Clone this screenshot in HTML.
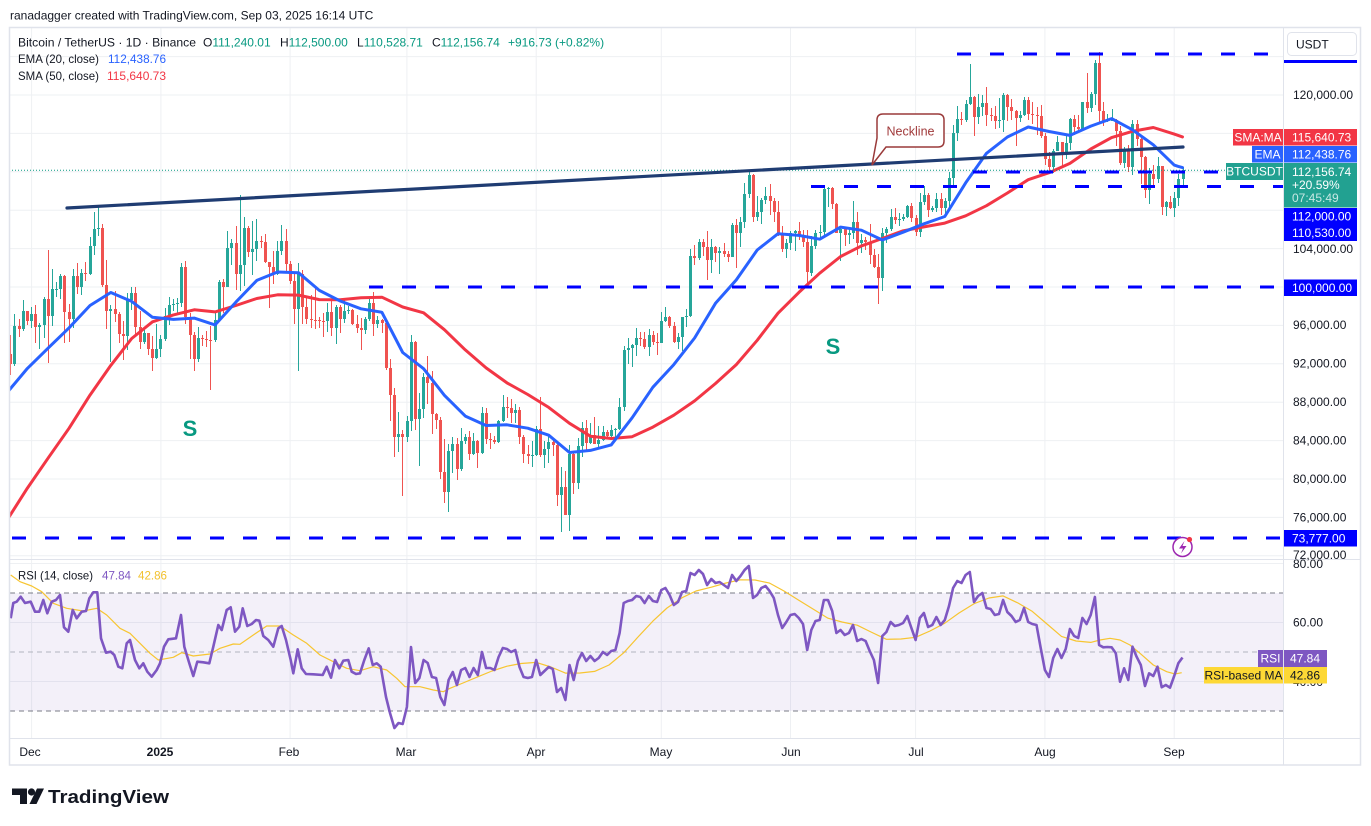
<!DOCTYPE html>
<html><head><meta charset="utf-8">
<style>
html,body{margin:0;padding:0;background:#fff;}
#wrap{position:relative;width:1371px;height:826px;overflow:hidden;background:#fff;}
svg{position:absolute;left:0;top:0;display:block;font-family:"Liberation Sans",Arial,sans-serif;}
.cd{position:absolute;left:8.665px;top:0;width:1177px;height:560px;display:flex;flex-wrap:nowrap;}
.cd i{position:relative;flex:none;width:4.171875px;height:560px;display:block;}
.cd i:before,.cd i:after{content:"";position:absolute;background:var(--k);}
.cd i:before{left:1.585px;width:1px;top:calc(287px - (var(--h) - 100) * 9.6px);height:calc((var(--h) - var(--l)) * 9.6px);}
.cd i:after{left:0.585px;width:3px;top:calc(287px - (max(var(--o), var(--c)) - 100) * 9.6px);height:max(1px, calc((max(var(--o), var(--c)) - min(var(--o), var(--c))) * 9.6px));}
.u{--k:#26a69a;}.d{--k:#ef5350;}
</style></head><body>
<div id="wrap">
<svg width="1371" height="826" viewBox="0 0 1371 826" xmlns="http://www.w3.org/2000/svg">
<rect width="1371" height="826" fill="#fff"/>
<g stroke="#eef0f3" stroke-width="1">
<line x1="31.6" y1="28" x2="31.6" y2="738"/><line x1="160.9" y1="28" x2="160.9" y2="738"/><line x1="290.1" y1="28" x2="290.1" y2="738"/><line x1="406.9" y1="28" x2="406.9" y2="738"/><line x1="536.2" y1="28" x2="536.2" y2="738"/><line x1="661.3" y1="28" x2="661.3" y2="738"/><line x1="790.5" y1="28" x2="790.5" y2="738"/><line x1="915.6" y1="28" x2="915.6" y2="738"/><line x1="1044.9" y1="28" x2="1044.9" y2="738"/><line x1="1174.2" y1="28" x2="1174.2" y2="738"/>
<line x1="10" y1="555.8" x2="1283" y2="555.8"/><line x1="10" y1="517.4" x2="1283" y2="517.4"/><line x1="10" y1="479" x2="1283" y2="479"/><line x1="10" y1="440.6" x2="1283" y2="440.6"/><line x1="10" y1="402.2" x2="1283" y2="402.2"/><line x1="10" y1="363.8" x2="1283" y2="363.8"/><line x1="10" y1="325.4" x2="1283" y2="325.4"/><line x1="10" y1="287" x2="1283" y2="287"/><line x1="10" y1="248.6" x2="1283" y2="248.6"/><line x1="10" y1="210.2" x2="1283" y2="210.2"/><line x1="10" y1="171.8" x2="1283" y2="171.8"/><line x1="10" y1="133.4" x2="1283" y2="133.4"/><line x1="10" y1="95" x2="1283" y2="95"/><line x1="10" y1="56.6" x2="1283" y2="56.6"/>
<line x1="10" y1="563.5" x2="1283" y2="563.5"/><line x1="10" y1="622.5" x2="1283" y2="622.5"/><line x1="10" y1="681.5" x2="1283" y2="681.5"/>
</g>
</svg>

<div class="cd">
<i class="d" style="--o:93.01;--h:94.97;--l:90.79;--c:91.97"></i>
<i class="u" style="--o:91.97;--h:97.21;--l:91.80;--c:95.95"></i>
<i class="d" style="--o:95.95;--h:96.65;--l:94.75;--c:95.64"></i>
<i class="u" style="--o:95.64;--h:98.69;--l:95.38;--c:97.46"></i>
<i class="d" style="--o:97.46;--h:97.50;--l:96.00;--c:96.41"></i>
<i class="u" style="--o:96.41;--h:97.90;--l:95.70;--c:97.19"></i>
<i class="d" style="--o:97.19;--h:98.15;--l:94.20;--c:95.84"></i>
<i class="u" style="--o:95.84;--h:96.30;--l:93.58;--c:96.00"></i>
<i class="u" style="--o:96.00;--h:99.00;--l:94.66;--c:98.77"></i>
<i class="d" style="--o:98.77;--h:103.90;--l:92.12;--c:96.95"></i>
<i class="u" style="--o:96.95;--h:101.90;--l:95.98;--c:99.74"></i>
<i class="u" style="--o:99.74;--h:100.55;--l:98.93;--c:99.83"></i>
<i class="u" style="--o:99.83;--h:101.40;--l:98.77;--c:101.11"></i>
<i class="d" style="--o:101.11;--h:101.22;--l:94.15;--c:97.40"></i>
<i class="d" style="--o:97.40;--h:98.27;--l:94.26;--c:96.68"></i>
<i class="u" style="--o:96.68;--h:101.90;--l:95.70;--c:101.17"></i>
<i class="d" style="--o:101.17;--h:102.54;--l:99.31;--c:100.04"></i>
<i class="u" style="--o:100.04;--h:101.90;--l:99.20;--c:101.42"></i>
<i class="d" style="--o:101.42;--h:102.65;--l:100.61;--c:101.37"></i>
<i class="u" style="--o:101.37;--h:105.25;--l:101.23;--c:104.30"></i>
<i class="u" style="--o:104.30;--h:107.78;--l:103.33;--c:106.06"></i>
<i class="u" style="--o:106.06;--h:108.35;--l:105.32;--c:106.13"></i>
<i class="d" style="--o:106.13;--h:106.52;--l:100.00;--c:100.20"></i>
<i class="d" style="--o:100.20;--h:102.80;--l:95.67;--c:97.46"></i>
<i class="u" style="--o:97.46;--h:98.15;--l:92.23;--c:97.76"></i>
<i class="d" style="--o:97.76;--h:99.54;--l:96.40;--c:97.22"></i>
<i class="d" style="--o:97.22;--h:97.40;--l:94.20;--c:95.10"></i>
<i class="d" style="--o:95.10;--h:96.42;--l:92.40;--c:94.89"></i>
<i class="u" style="--o:94.89;--h:99.40;--l:93.40;--c:98.68"></i>
<i class="u" style="--o:98.68;--h:99.96;--l:97.60;--c:99.40"></i>
<i class="d" style="--o:99.40;--h:99.96;--l:95.14;--c:95.79"></i>
<i class="d" style="--o:95.79;--h:97.50;--l:93.50;--c:94.30"></i>
<i class="u" style="--o:94.30;--h:95.50;--l:94.10;--c:95.16"></i>
<i class="d" style="--o:95.16;--h:95.20;--l:92.90;--c:93.53"></i>
<i class="d" style="--o:93.53;--h:94.90;--l:91.30;--c:92.64"></i>
<i class="u" style="--o:92.64;--h:96.15;--l:92.50;--c:93.58"></i>
<i class="u" style="--o:93.58;--h:95.00;--l:92.74;--c:94.59"></i>
<i class="u" style="--o:94.59;--h:97.84;--l:94.40;--c:96.98"></i>
<i class="u" style="--o:96.98;--h:98.98;--l:96.00;--c:98.11"></i>
<i class="u" style="--o:98.11;--h:98.73;--l:97.51;--c:98.24"></i>
<i class="u" style="--o:98.24;--h:98.81;--l:97.27;--c:98.31"></i>
<i class="u" style="--o:98.31;--h:102.48;--l:97.90;--c:102.08"></i>
<i class="d" style="--o:102.08;--h:102.72;--l:96.18;--c:96.92"></i>
<i class="d" style="--o:96.92;--h:97.26;--l:92.50;--c:95.04"></i>
<i class="d" style="--o:95.04;--h:95.35;--l:91.20;--c:92.48"></i>
<i class="u" style="--o:92.48;--h:95.84;--l:92.20;--c:94.70"></i>
<i class="d" style="--o:94.70;--h:95.00;--l:93.83;--c:94.56"></i>
<i class="d" style="--o:94.56;--h:95.40;--l:93.71;--c:94.52"></i>
<i class="d" style="--o:94.52;--h:95.89;--l:89.26;--c:94.50"></i>
<i class="u" style="--o:94.50;--h:97.37;--l:94.30;--c:96.53"></i>
<i class="u" style="--o:96.53;--h:100.68;--l:96.45;--c:100.50"></i>
<i class="d" style="--o:100.50;--h:100.87;--l:97.27;--c:99.99"></i>
<i class="u" style="--o:99.99;--h:105.87;--l:99.95;--c:104.08"></i>
<i class="u" style="--o:104.08;--h:104.99;--l:102.28;--c:104.56"></i>
<i class="d" style="--o:104.56;--h:106.31;--l:99.65;--c:101.33"></i>
<i class="u" style="--o:101.33;--h:109.59;--l:99.55;--c:102.26"></i>
<i class="u" style="--o:102.26;--h:107.24;--l:100.12;--c:106.14"></i>
<i class="d" style="--o:106.14;--h:106.33;--l:103.12;--c:103.65"></i>
<i class="u" style="--o:103.65;--h:106.85;--l:101.25;--c:103.96"></i>
<i class="u" style="--o:103.96;--h:107.12;--l:102.75;--c:104.82"></i>
<i class="d" style="--o:104.82;--h:105.29;--l:104.10;--c:104.71"></i>
<i class="d" style="--o:104.71;--h:105.47;--l:102.46;--c:102.62"></i>
<i class="d" style="--o:102.62;--h:102.62;--l:97.78;--c:102.08"></i>
<i class="d" style="--o:102.08;--h:103.78;--l:100.27;--c:101.33"></i>
<i class="u" style="--o:101.33;--h:104.80;--l:101.25;--c:103.73"></i>
<i class="u" style="--o:103.73;--h:106.46;--l:103.32;--c:104.74"></i>
<i class="d" style="--o:104.74;--h:106.01;--l:101.56;--c:102.43"></i>
<i class="d" style="--o:102.43;--h:102.75;--l:100.28;--c:100.64"></i>
<i class="d" style="--o:100.64;--h:101.46;--l:96.15;--c:97.69"></i>
<i class="u" style="--o:97.69;--h:102.50;--l:91.23;--c:101.40"></i>
<i class="d" style="--o:101.40;--h:101.73;--l:96.15;--c:97.87"></i>
<i class="d" style="--o:97.87;--h:99.00;--l:96.16;--c:96.62"></i>
<i class="d" style="--o:96.62;--h:99.19;--l:95.68;--c:96.59"></i>
<i class="d" style="--o:96.59;--h:100.14;--l:95.62;--c:96.53"></i>
<i class="d" style="--o:96.53;--h:96.88;--l:95.69;--c:96.48"></i>
<i class="d" style="--o:96.48;--h:97.32;--l:94.75;--c:96.46"></i>
<i class="u" style="--o:96.46;--h:98.35;--l:95.26;--c:97.43"></i>
<i class="d" style="--o:97.43;--h:98.50;--l:94.88;--c:95.78"></i>
<i class="u" style="--o:95.78;--h:98.12;--l:94.09;--c:97.87"></i>
<i class="d" style="--o:97.87;--h:98.10;--l:95.22;--c:96.62"></i>
<i class="u" style="--o:96.62;--h:98.83;--l:96.25;--c:97.51"></i>
<i class="u" style="--o:97.51;--h:97.97;--l:97.23;--c:97.57"></i>
<i class="d" style="--o:97.57;--h:97.73;--l:96.04;--c:96.12"></i>
<i class="d" style="--o:96.12;--h:97.05;--l:95.21;--c:95.77"></i>
<i class="d" style="--o:95.77;--h:96.75;--l:93.39;--c:95.54"></i>
<i class="u" style="--o:95.54;--h:96.90;--l:95.10;--c:96.64"></i>
<i class="u" style="--o:96.64;--h:98.80;--l:96.42;--c:98.33"></i>
<i class="d" style="--o:98.33;--h:99.51;--l:94.87;--c:96.13"></i>
<i class="u" style="--o:96.13;--h:96.95;--l:95.77;--c:96.58"></i>
<i class="d" style="--o:96.58;--h:96.67;--l:95.23;--c:96.27"></i>
<i class="d" style="--o:96.27;--h:96.50;--l:91.37;--c:91.55"></i>
<i class="d" style="--o:91.55;--h:92.55;--l:86.05;--c:88.74"></i>
<i class="d" style="--o:88.74;--h:89.43;--l:82.26;--c:84.35"></i>
<i class="u" style="--o:84.35;--h:87.00;--l:82.79;--c:84.71"></i>
<i class="d" style="--o:84.71;--h:85.12;--l:78.26;--c:84.35"></i>
<i class="u" style="--o:84.35;--h:86.56;--l:83.82;--c:86.07"></i>
<i class="u" style="--o:86.07;--h:95.00;--l:85.05;--c:94.27"></i>
<i class="d" style="--o:94.27;--h:94.42;--l:85.08;--c:86.22"></i>
<i class="u" style="--o:86.22;--h:88.91;--l:81.39;--c:87.28"></i>
<i class="u" style="--o:87.28;--h:91.00;--l:86.33;--c:90.61"></i>
<i class="d" style="--o:90.61;--h:92.81;--l:87.85;--c:89.96"></i>
<i class="d" style="--o:89.96;--h:91.28;--l:84.67;--c:86.74"></i>
<i class="d" style="--o:86.74;--h:86.85;--l:85.25;--c:86.15"></i>
<i class="d" style="--o:86.15;--h:86.50;--l:80.00;--c:80.73"></i>
<i class="d" style="--o:80.73;--h:84.12;--l:77.46;--c:78.60"></i>
<i class="u" style="--o:78.60;--h:83.62;--l:76.61;--c:82.93"></i>
<i class="u" style="--o:82.93;--h:84.36;--l:80.63;--c:83.68"></i>
<i class="d" style="--o:83.68;--h:84.30;--l:79.94;--c:81.07"></i>
<i class="u" style="--o:81.07;--h:85.31;--l:80.81;--c:83.98"></i>
<i class="u" style="--o:83.98;--h:84.67;--l:83.63;--c:84.34"></i>
<i class="d" style="--o:84.34;--h:85.05;--l:82.02;--c:82.58"></i>
<i class="u" style="--o:82.58;--h:84.76;--l:82.46;--c:84.01"></i>
<i class="d" style="--o:84.01;--h:84.04;--l:81.13;--c:82.72"></i>
<i class="u" style="--o:82.72;--h:87.45;--l:82.64;--c:86.85"></i>
<i class="d" style="--o:86.85;--h:87.44;--l:83.65;--c:84.17"></i>
<i class="d" style="--o:84.17;--h:84.78;--l:83.17;--c:84.04"></i>
<i class="d" style="--o:84.04;--h:84.51;--l:83.67;--c:83.83"></i>
<i class="u" style="--o:83.83;--h:86.11;--l:83.79;--c:86.05"></i>
<i class="u" style="--o:86.05;--h:88.77;--l:85.94;--c:87.50"></i>
<i class="d" style="--o:87.50;--h:88.54;--l:86.35;--c:87.43"></i>
<i class="d" style="--o:87.43;--h:88.29;--l:85.86;--c:86.90"></i>
<i class="u" style="--o:86.90;--h:87.79;--l:85.84;--c:87.23"></i>
<i class="d" style="--o:87.23;--h:87.52;--l:83.65;--c:84.42"></i>
<i class="d" style="--o:84.42;--h:84.57;--l:81.64;--c:82.65"></i>
<i class="d" style="--o:82.65;--h:83.53;--l:81.57;--c:82.39"></i>
<i class="u" style="--o:82.39;--h:83.94;--l:81.28;--c:82.55"></i>
<i class="u" style="--o:82.55;--h:85.49;--l:82.43;--c:85.16"></i>
<i class="d" style="--o:85.16;--h:88.50;--l:82.32;--c:82.52"></i>
<i class="u" style="--o:82.52;--h:83.94;--l:81.19;--c:83.10"></i>
<i class="u" style="--o:83.10;--h:84.72;--l:81.66;--c:83.84"></i>
<i class="d" style="--o:83.84;--h:84.23;--l:82.37;--c:83.50"></i>
<i class="d" style="--o:83.50;--h:83.82;--l:77.15;--c:78.37"></i>
<i class="u" style="--o:78.37;--h:81.24;--l:74.51;--c:79.14"></i>
<i class="d" style="--o:79.14;--h:80.82;--l:76.20;--c:76.27"></i>
<i class="u" style="--o:76.27;--h:83.59;--l:74.62;--c:82.62"></i>
<i class="d" style="--o:82.62;--h:82.70;--l:78.46;--c:79.61"></i>
<i class="u" style="--o:79.61;--h:84.30;--l:78.94;--c:83.42"></i>
<i class="u" style="--o:83.42;--h:85.91;--l:82.26;--c:85.28"></i>
<i class="d" style="--o:85.28;--h:86.10;--l:83.03;--c:83.74"></i>
<i class="u" style="--o:83.74;--h:85.80;--l:83.68;--c:84.54"></i>
<i class="d" style="--o:84.54;--h:86.50;--l:83.60;--c:83.63"></i>
<i class="u" style="--o:83.63;--h:85.50;--l:83.11;--c:84.03"></i>
<i class="u" style="--o:84.03;--h:85.47;--l:83.94;--c:84.94"></i>
<i class="d" style="--o:84.94;--h:85.10;--l:84.23;--c:84.45"></i>
<i class="u" style="--o:84.45;--h:85.60;--l:84.41;--c:85.06"></i>
<i class="u" style="--o:85.06;--h:85.32;--l:83.95;--c:85.17"></i>
<i class="u" style="--o:85.17;--h:88.46;--l:85.14;--c:87.52"></i>
<i class="u" style="--o:87.52;--h:93.82;--l:87.08;--c:93.44"></i>
<i class="u" style="--o:93.44;--h:94.70;--l:91.94;--c:93.69"></i>
<i class="u" style="--o:93.69;--h:94.03;--l:91.66;--c:93.98"></i>
<i class="u" style="--o:93.98;--h:95.77;--l:92.80;--c:94.64"></i>
<i class="d" style="--o:94.64;--h:95.30;--l:93.88;--c:94.63"></i>
<i class="d" style="--o:94.63;--h:95.28;--l:93.59;--c:93.75"></i>
<i class="u" style="--o:93.75;--h:95.60;--l:92.86;--c:94.98"></i>
<i class="d" style="--o:94.98;--h:95.46;--l:93.91;--c:94.28"></i>
<i class="d" style="--o:94.28;--h:95.21;--l:92.91;--c:94.17"></i>
<i class="u" style="--o:94.17;--h:97.44;--l:94.13;--c:96.49"></i>
<i class="u" style="--o:96.49;--h:97.90;--l:96.31;--c:96.91"></i>
<i class="d" style="--o:96.91;--h:96.94;--l:95.75;--c:95.89"></i>
<i class="d" style="--o:95.89;--h:96.32;--l:94.14;--c:94.32"></i>
<i class="u" style="--o:94.32;--h:95.20;--l:93.51;--c:94.75"></i>
<i class="u" style="--o:94.75;--h:96.90;--l:93.38;--c:96.83"></i>
<i class="u" style="--o:96.83;--h:97.73;--l:95.83;--c:97.03"></i>
<i class="u" style="--o:97.03;--h:103.97;--l:96.88;--c:103.24"></i>
<i class="d" style="--o:103.24;--h:104.36;--l:102.33;--c:102.97"></i>
<i class="u" style="--o:102.97;--h:104.98;--l:102.82;--c:104.70"></i>
<i class="d" style="--o:104.70;--h:105.00;--l:103.20;--c:104.12"></i>
<i class="d" style="--o:104.12;--h:105.82;--l:100.72;--c:102.79"></i>
<i class="u" style="--o:102.79;--h:104.98;--l:101.46;--c:104.17"></i>
<i class="d" style="--o:104.17;--h:104.30;--l:102.62;--c:103.54"></i>
<i class="u" style="--o:103.54;--h:104.15;--l:101.38;--c:103.76"></i>
<i class="d" style="--o:103.76;--h:104.55;--l:103.11;--c:103.48"></i>
<i class="d" style="--o:103.48;--h:103.72;--l:102.61;--c:103.13"></i>
<i class="u" style="--o:103.13;--h:106.66;--l:103.10;--c:106.45"></i>
<i class="d" style="--o:106.45;--h:107.11;--l:102.00;--c:105.61"></i>
<i class="u" style="--o:105.61;--h:107.32;--l:104.19;--c:106.79"></i>
<i class="u" style="--o:106.79;--h:110.80;--l:106.10;--c:109.64"></i>
<i class="u" style="--o:109.64;--h:111.98;--l:109.29;--c:111.70"></i>
<i class="d" style="--o:111.70;--h:111.80;--l:106.80;--c:107.29"></i>
<i class="u" style="--o:107.29;--h:109.45;--l:106.90;--c:107.79"></i>
<i class="u" style="--o:107.79;--h:109.31;--l:106.60;--c:109.03"></i>
<i class="u" style="--o:109.03;--h:110.42;--l:108.67;--c:109.44"></i>
<i class="d" style="--o:109.44;--h:110.72;--l:107.55;--c:108.99"></i>
<i class="d" style="--o:108.99;--h:109.31;--l:106.81;--c:107.80"></i>
<i class="d" style="--o:107.80;--h:108.91;--l:105.32;--c:105.64"></i>
<i class="d" style="--o:105.64;--h:106.33;--l:103.62;--c:103.99"></i>
<i class="u" style="--o:103.99;--h:104.99;--l:103.07;--c:104.59"></i>
<i class="u" style="--o:104.59;--h:105.88;--l:103.86;--c:105.64"></i>
<i class="u" style="--o:105.64;--h:105.94;--l:103.70;--c:105.81"></i>
<i class="d" style="--o:105.81;--h:106.81;--l:104.93;--c:105.37"></i>
<i class="d" style="--o:105.37;--h:105.98;--l:104.17;--c:104.70"></i>
<i class="d" style="--o:104.70;--h:105.91;--l:100.37;--c:101.51"></i>
<i class="u" style="--o:101.51;--h:105.33;--l:101.10;--c:104.29"></i>
<i class="u" style="--o:104.29;--h:105.90;--l:103.92;--c:105.62"></i>
<i class="u" style="--o:105.62;--h:106.50;--l:105.07;--c:105.73"></i>
<i class="u" style="--o:105.73;--h:110.53;--l:105.35;--c:110.26"></i>
<i class="u" style="--o:110.26;--h:110.40;--l:108.35;--c:110.27"></i>
<i class="d" style="--o:110.27;--h:110.38;--l:108.09;--c:108.65"></i>
<i class="d" style="--o:108.65;--h:108.78;--l:105.67;--c:105.67"></i>
<i class="u" style="--o:105.67;--h:106.18;--l:102.66;--c:106.07"></i>
<i class="d" style="--o:106.07;--h:106.21;--l:104.30;--c:105.41"></i>
<i class="u" style="--o:105.41;--h:106.13;--l:104.49;--c:105.59"></i>
<i class="u" style="--o:105.59;--h:108.95;--l:104.99;--c:106.79"></i>
<i class="d" style="--o:106.79;--h:107.77;--l:103.37;--c:104.55"></i>
<i class="u" style="--o:104.55;--h:105.55;--l:103.50;--c:104.88"></i>
<i class="d" style="--o:104.88;--h:105.23;--l:103.90;--c:104.64"></i>
<i class="d" style="--o:104.64;--h:106.54;--l:102.35;--c:103.30"></i>
<i class="d" style="--o:103.30;--h:104.00;--l:101.94;--c:102.12"></i>
<i class="d" style="--o:102.12;--h:103.40;--l:98.20;--c:100.96"></i>
<i class="u" style="--o:100.96;--h:106.13;--l:99.59;--c:105.58"></i>
<i class="u" style="--o:105.58;--h:106.29;--l:104.62;--c:106.04"></i>
<i class="u" style="--o:106.04;--h:108.14;--l:105.88;--c:107.32"></i>
<i class="d" style="--o:107.32;--h:108.27;--l:106.60;--c:106.95"></i>
<i class="u" style="--o:106.95;--h:107.74;--l:106.37;--c:107.10"></i>
<i class="u" style="--o:107.10;--h:107.60;--l:106.85;--c:107.33"></i>
<i class="u" style="--o:107.33;--h:108.53;--l:107.21;--c:108.39"></i>
<i class="d" style="--o:108.39;--h:108.79;--l:106.73;--c:107.14"></i>
<i class="d" style="--o:107.14;--h:107.54;--l:105.26;--c:105.68"></i>
<i class="u" style="--o:105.68;--h:109.76;--l:105.16;--c:108.85"></i>
<i class="u" style="--o:108.85;--h:110.53;--l:108.50;--c:109.58"></i>
<i class="d" style="--o:109.58;--h:109.77;--l:107.25;--c:107.98"></i>
<i class="u" style="--o:107.98;--h:108.45;--l:107.80;--c:108.22"></i>
<i class="u" style="--o:108.22;--h:109.74;--l:107.80;--c:109.20"></i>
<i class="d" style="--o:109.20;--h:109.74;--l:107.47;--c:108.26"></i>
<i class="u" style="--o:108.26;--h:109.22;--l:107.40;--c:108.92"></i>
<i class="u" style="--o:108.92;--h:111.99;--l:108.32;--c:111.33"></i>
<i class="u" style="--o:111.33;--h:116.87;--l:110.58;--c:115.99"></i>
<i class="u" style="--o:115.99;--h:118.87;--l:115.22;--c:117.52"></i>
<i class="d" style="--o:117.52;--h:118.20;--l:116.90;--c:117.42"></i>
<i class="u" style="--o:117.42;--h:119.49;--l:117.22;--c:119.09"></i>
<i class="u" style="--o:119.09;--h:123.22;--l:118.91;--c:119.84"></i>
<i class="d" style="--o:119.84;--h:119.94;--l:115.74;--c:117.68"></i>
<i class="u" style="--o:117.68;--h:120.06;--l:117.01;--c:118.78"></i>
<i class="u" style="--o:118.78;--h:120.00;--l:117.84;--c:119.18"></i>
<i class="d" style="--o:119.18;--h:120.83;--l:116.81;--c:117.92"></i>
<i class="d" style="--o:117.92;--h:118.64;--l:117.27;--c:117.84"></i>
<i class="d" style="--o:117.84;--h:118.86;--l:116.47;--c:117.27"></i>
<i class="u" style="--o:117.27;--h:119.68;--l:116.52;--c:117.38"></i>
<i class="u" style="--o:117.38;--h:120.25;--l:116.14;--c:119.95"></i>
<i class="d" style="--o:119.95;--h:120.10;--l:117.30;--c:118.76"></i>
<i class="d" style="--o:118.76;--h:119.54;--l:117.41;--c:118.34"></i>
<i class="d" style="--o:118.34;--h:118.45;--l:114.72;--c:117.64"></i>
<i class="u" style="--o:117.64;--h:118.30;--l:117.15;--c:117.92"></i>
<i class="u" style="--o:117.92;--h:119.80;--l:117.85;--c:119.45"></i>
<i class="d" style="--o:119.45;--h:119.80;--l:117.43;--c:118.06"></i>
<i class="d" style="--o:118.06;--h:119.27;--l:116.95;--c:117.92"></i>
<i class="d" style="--o:117.92;--h:118.79;--l:115.80;--c:117.83"></i>
<i class="d" style="--o:117.83;--h:118.92;--l:115.50;--c:115.76"></i>
<i class="d" style="--o:115.76;--h:116.05;--l:112.72;--c:113.30"></i>
<i class="d" style="--o:113.30;--h:114.04;--l:112.00;--c:112.53"></i>
<i class="u" style="--o:112.53;--h:114.38;--l:111.92;--c:114.21"></i>
<i class="u" style="--o:114.21;--h:115.72;--l:114.12;--c:115.06"></i>
<i class="d" style="--o:115.06;--h:115.12;--l:112.65;--c:114.11"></i>
<i class="u" style="--o:114.11;--h:115.71;--l:113.35;--c:114.99"></i>
<i class="u" style="--o:114.99;--h:117.63;--l:114.26;--c:117.50"></i>
<i class="d" style="--o:117.50;--h:117.94;--l:115.88;--c:116.67"></i>
<i class="d" style="--o:116.67;--h:117.90;--l:116.30;--c:116.47"></i>
<i class="u" style="--o:116.47;--h:119.31;--l:116.46;--c:119.29"></i>
<i class="d" style="--o:119.29;--h:122.33;--l:118.10;--c:118.69"></i>
<i class="u" style="--o:118.69;--h:120.32;--l:118.20;--c:120.14"></i>
<i class="u" style="--o:120.14;--h:123.67;--l:118.92;--c:123.31"></i>
<i class="d" style="--o:123.31;--h:124.47;--l:117.18;--c:118.30"></i>
<i class="d" style="--o:118.30;--h:119.22;--l:116.80;--c:117.34"></i>
<i class="u" style="--o:117.34;--h:117.99;--l:117.17;--c:117.38"></i>
<i class="u" style="--o:117.38;--h:118.58;--l:117.30;--c:117.41"></i>
<i class="d" style="--o:117.41;--h:117.54;--l:114.64;--c:116.23"></i>
<i class="d" style="--o:116.23;--h:116.80;--l:112.73;--c:112.87"></i>
<i class="u" style="--o:112.87;--h:114.62;--l:112.38;--c:114.27"></i>
<i class="d" style="--o:114.27;--h:114.82;--l:112.00;--c:112.50"></i>
<i class="u" style="--o:112.50;--h:117.43;--l:111.68;--c:116.94"></i>
<i class="d" style="--o:116.94;--h:117.43;--l:114.72;--c:115.37"></i>
<i class="d" style="--o:115.37;--h:115.66;--l:110.70;--c:113.49"></i>
<i class="d" style="--o:113.49;--h:113.65;--l:109.30;--c:110.11"></i>
<i class="u" style="--o:110.11;--h:112.38;--l:108.67;--c:111.79"></i>
<i class="d" style="--o:111.79;--h:112.66;--l:110.35;--c:111.26"></i>
<i class="u" style="--o:111.26;--h:113.50;--l:110.86;--c:112.56"></i>
<i class="d" style="--o:112.56;--h:112.65;--l:107.46;--c:108.38"></i>
<i class="u" style="--o:108.38;--h:108.95;--l:107.35;--c:108.82"></i>
<i class="d" style="--o:108.82;--h:109.48;--l:108.08;--c:108.25"></i>
<i class="u" style="--o:108.25;--h:109.92;--l:107.27;--c:109.24"></i>
<i class="u" style="--o:109.24;--h:111.77;--l:108.39;--c:111.24"></i>
<i class="u" style="--o:111.24;--h:112.50;--l:110.53;--c:112.16"></i>
</div>

<svg width="1371" height="826" viewBox="0 0 1371 826" xmlns="http://www.w3.org/2000/svg">
<defs>
<clipPath id="cpP"><rect x="10" y="28" width="1273" height="531"/></clipPath>
<clipPath id="cpR"><rect x="10" y="560" width="1273" height="178"/></clipPath>
</defs>
<text x="10" y="19.5" font-size="12" fill="#131722">ranadagger created with TradingView.com, Sep 03, 2025 16:14 UTC</text>

<!-- MAs -->
<g clip-path="url(#cpP)" fill="none" stroke-width="3" stroke-linejoin="round" stroke-linecap="round">
<polyline stroke="#f23645" points="6.6,520.8 27.4,488.1 48.3,457.8 69.1,428.2 90,395.1 110.8,365.4 131.7,338.5 152.5,321.8 173.4,314.9 194.2,309.8 215.1,311.9 235.9,305.5 256.8,298.5 277.6,294.8 298.5,295.1 319.3,299.6 340.2,299.8 361,297.7 381.9,297.2 402.7,307 423.6,312.8 444.4,329.7 465.3,349.9 486.1,367.9 507,382.9 527.8,394.5 548.7,407.4 569.5,423.3 590.4,436.2 611.2,438.5 632.1,436.7 652.9,427.1 673.8,415.2 694.6,400.9 715.5,383.5 736.3,364.6 757.2,340.3 778,313.2 798.9,292.4 819.7,273.2 840.6,256.5 861.4,245.9 882.3,238.5 903.1,230.8 924,226.9 944.8,223.1 965.7,215.8 986.5,205.7 1007.4,193 1028.2,179.7 1049.1,172.7 1069.9,163.4 1090.8,149 1111.6,137.6 1132.5,131.3 1153.3,127.5 1174.2,134.1 1182.5,136.9"/>
<polyline stroke="#2962ff" points="6.6,393.2 27.4,368.4 48.3,347.9 69.1,327.8 90,305.5 110.8,292.5 131.7,301.4 152.5,317.3 173.4,319.4 194.2,318.1 215.1,324.9 235.9,302.1 256.8,280.4 277.6,272 298.5,272.7 319.3,290.4 340.2,301 361,308.8 381.9,312.3 402.7,352.5 423.6,368.7 444.4,395.3 465.3,416.1 486.1,425.5 507,424.8 527.8,428.2 548.7,435.2 569.5,452.5 590.4,450.4 611.2,444.9 632.1,417.8 652.9,387.2 673.8,364.6 694.6,338 715.5,303.3 736.3,279.9 757.2,250 778,233.7 798.9,235.4 819.7,239.2 840.6,227.1 861.4,230.2 882.3,240 903.1,232.2 924,223.8 944.8,216.5 965.7,182.8 986.5,153.3 1007.4,137 1028.2,127 1049.1,131.5 1069.9,135.4 1090.8,126.1 1111.6,118.6 1132.5,129.8 1153.3,144.8 1174.2,165.1 1178.3,166.4 1182.5,167.6"/>
</g>

<!-- RSI pane -->
<rect x="10" y="593" width="1273" height="118" fill="rgba(126,87,194,0.09)"/>
<line x1="10" y1="593" x2="1283" y2="593" stroke="#787b86" stroke-width="1" stroke-dasharray="5 4"/>
<line x1="10" y1="652" x2="1283" y2="652" stroke="#b2b5be" stroke-width="1" stroke-dasharray="5 4"/>
<line x1="10" y1="711" x2="1283" y2="711" stroke="#787b86" stroke-width="1" stroke-dasharray="5 4"/>
<g clip-path="url(#cpR)" fill="none" stroke-linejoin="round">
<polyline stroke="#f7c531" stroke-width="1.2" points="10.7,575 20,581.7 31.7,586 41.7,591.7 53.3,603.3 66.7,608.3 83.3,611 96.7,608.3 106.7,615 120,628.3 130,633.3 140,643.3 150,653.3 158.3,660 173.3,657.3 181.7,652.7 193.3,656 210,654 220,648.3 233.3,644 240,644.3 253.3,635 266.7,626 280,626 293.3,635 306.7,643.3 320,655 333.3,661.7 346.7,668.3 360,670.7 373.3,666.7 386.7,670 396.7,678.3 405,686.7 420,686.7 433.3,690 443.3,691.7 450,688.3 463,683 477.8,676.8 492,671 507,666.2 521,663.5 536.2,662.4 551,667 565.4,673.1 580,673 594.6,671.4 609,665 623.7,652.8 638,637 652.9,621.1 667,608 682.1,597.7 696,591 711.3,587.2 726,583 740.5,579.8 755,580 769.6,583.1 784,591 798.8,600.3 813,609 828,618.2 842,622 857.2,625.2 871,632 886.4,639.3 901,639 915.6,637.3 930,631 944.8,623.2 959,613 974,603.7 989,598 1003.1,595.9 1018,603 1032.3,611.4 1047,624 1061.5,636.4 1076,641 1090.7,642.4 1100,640 1110,638.3 1120,640 1130,645 1140,653.3 1153.3,665 1166.7,671.7 1175,674 1181.7,672.7"/>
<polyline stroke="#7e57c2" stroke-width="2.6" points="10.7,618.3 13.3,603 16.7,601.7 20.7,596.7 25,603 30.7,601.7 35,611.7 39.3,611.7 43.3,600 47.3,613.3 51.7,601.7 56,600 60,595 64,627.3 68.3,631.7 72.7,610 76.7,618.3 81.7,611.7 86,611 89.3,598.3 93.3,592.3 97.3,592.3 101,638.3 106,652.7 110.7,651.7 114.3,655 118.3,666.7 122.3,668.3 126.7,643.3 130,640 135,660 139.3,668.3 143.3,663.3 147.3,671.7 151.7,676.7 156.7,670 160,663.3 164,646.7 168.3,639.3 176,638.3 181,615 184.3,646.7 189.3,663.3 193.3,676 197.3,661.7 203.3,662.3 209.3,663.3 213.3,646.7 218.3,625 221.7,630 226.7,610 230.7,607.3 235,631.7 239.3,626.7 242.7,608.3 247.3,626 251.7,624 256,620 259.3,620.7 263.3,636 268.3,640 273.3,646.7 278.3,628.3 281.7,626 286,640 290.7,660 293.3,673.3 297.7,649.3 301.7,668.3 306,674 313.3,674.3 322.7,675 326.7,666.7 331,677.7 335,660 339.3,668.3 343.3,660.7 348.3,660 351.7,671.7 356,674 360,673.3 364.3,660 368.7,648.3 372.7,665 376.7,663.3 380.7,666.7 386,697 390,713 394.4,728 398.5,723 402.7,724 406.9,707 411,647 415.2,683 419.4,678 423.6,660 427.7,663 431.9,677 436.1,678 440.3,697 444.4,705 448.6,680 452.8,672 456.9,685 461.1,670 465.3,668 469.5,677 473.6,668 477.8,675 482,652 486.1,668 490.3,668 494.5,670 498.6,657 502.8,648 507,649 511.1,652 515.3,650 519.5,667 523.6,677 527.8,678 532,677 536.2,660 540.3,675 544.5,671 548.7,667 552.8,669 557,692 561.2,688 565.4,700 569.5,665 573.7,680 577.9,661 582,653 586.2,661 590.4,656 594.6,661 598.7,658 602.9,652 607.1,655 611.2,651 615.4,650 619.6,633 623.7,603 627.9,601 632.1,600 636.3,596 640.4,597 644.6,603 648.8,596 652.9,601 657.1,602 661.3,590 665.4,588 669.6,595 673.8,605 678,602 682.1,592 686.3,591 690.5,573 694.6,575 698.8,570 703,574 707.1,585 711.3,579 715.5,583 719.6,582 723.8,585 728,588 732.1,575 736.3,581 740.5,576 744.6,570 748.8,566 753,598 757.1,595 761.3,588 765.5,586 769.6,591 773.8,598 778,615 782.2,628 786.3,622 790.5,615 794.7,614 798.8,618 803,624 807.2,650 811.3,630 815.5,621 819.7,620 823.9,600 828,600 832.2,611 836.4,633 840.5,630 844.7,635 848.9,633 853,625 857.2,641 861.4,639 865.6,641 869.7,651 873.9,660 878.1,683 882.3,636 886.4,632 890.6,622 894.8,626 898.9,625 903.1,623 907.3,616 911.4,628 915.6,640 919.8,618 923.9,613 928.1,627 932.3,625 936.4,617 940.6,625 944.8,620 949,606 953.1,588 957.3,581 961.5,583 965.6,575 969.8,572 974,602 978.1,596 982.3,593 986.5,608 990.6,609 994.8,615 999,614 1003.1,600 1007.3,612 1011.5,616 1015.7,622 1019.8,620 1024,608 1028.2,622 1032.3,624 1036.5,625 1040.7,648 1044.9,670 1049,677 1053.2,658 1057.4,649 1061.5,658 1065.7,649 1069.9,629 1074.1,636 1078.2,638 1082.4,618 1086.6,624 1090.7,615 1094.9,597 1099.1,645 1103.3,647.3 1107.4,647 1111.6,647.3 1115.8,653.3 1120,681.7 1124.1,668.3 1128.3,680 1132.5,646.7 1136.6,656.7 1140.8,665 1145,686 1149.1,673.3 1153.3,676 1157.5,666.7 1161.7,687.3 1165.8,685 1170,687.7 1174.2,676 1178.3,663.3 1182.5,657.5"/>
</g>

<!-- frame / separators -->
<rect x="9.5" y="27.5" width="1351" height="737.5" fill="none" stroke="#e0e3eb" stroke-width="1.5"/>
<line x1="1283.5" y1="27" x2="1283.5" y2="765" stroke="#e0e3eb"/>
<line x1="9" y1="559.5" x2="1361" y2="559.5" stroke="#e0e3eb"/>
<line x1="9" y1="738.5" x2="1361" y2="738.5" stroke="#e0e3eb"/>

<!-- drawings -->
<g clip-path="url(#cpP)">
<line x1="9" y1="170.3" x2="1226" y2="170.3" stroke="#089981" stroke-width="1" stroke-dasharray="1 2"/>
<g stroke="#0000ff" stroke-width="3" fill="none">
<line x1="957" y1="54" x2="1283" y2="54" stroke-dasharray="14 19"/>
<line x1="973" y1="172" x2="1283" y2="172" stroke-dasharray="14 19"/>
<line x1="811" y1="186.5" x2="1283" y2="186.5" stroke-dasharray="14 19"/>
<line x1="369" y1="287" x2="1283" y2="287" stroke-dasharray="14 19"/>
<line x1="12" y1="538" x2="1283" y2="538" stroke-dasharray="14 19"/>
</g>
<line x1="67" y1="208" x2="1183" y2="147" stroke="#1f3c72" stroke-width="3.2" stroke-linecap="round"/>
<path d="M883,114 H938 Q944,114 944,120 V141 Q944,147 938,147 H886 L872,165 L877,138 V120 Q877,114 883,114 Z" fill="#fff" stroke="#9a3a3a" stroke-width="1.5"/>
<text x="910.5" y="135.5" font-size="12.5" fill="#a0393a" text-anchor="middle">Neckline</text>
<text x="190" y="436" font-size="22" font-weight="bold" fill="#089981" text-anchor="middle">S</text>
<text x="833" y="354" font-size="22" font-weight="bold" fill="#089981" text-anchor="middle">S</text>
<circle cx="1182.5" cy="547" r="9.5" fill="#fff" stroke="#9c27b0" stroke-width="1.5"/>
<path d="M1184.5,541 L1179,548.5 H1183 L1181,553.5 L1186.5,546 H1182.5 Z" fill="#9c27b0"/>
<circle cx="1189.5" cy="539.5" r="2.6" fill="#f23645"/>
</g>

<!-- legend -->
<g font-size="12">
<text x="18" y="46.5" fill="#131722" textLength="178" lengthAdjust="spacingAndGlyphs">Bitcoin / TetherUS · 1D · Binance</text>
<text x="203" y="46.5" fill="#131722">O<tspan fill="#089981">111,240.01</tspan></text>
<text x="280" y="46.5" fill="#131722">H<tspan fill="#089981">112,500.00</tspan></text>
<text x="357" y="46.5" fill="#131722">L<tspan fill="#089981">110,528.71</tspan></text>
<text x="432" y="46.5" fill="#131722">C<tspan fill="#089981">112,156.74</tspan></text>
<text x="508" y="46.5" fill="#089981">+916.73 (+0.82%)</text>
<text x="18" y="63" fill="#131722" textLength="81" lengthAdjust="spacingAndGlyphs">EMA (20, close)</text>
<text x="108" y="63" fill="#2962ff" textLength="58" lengthAdjust="spacingAndGlyphs">112,438.76</text>
<text x="18" y="80" fill="#131722" textLength="81" lengthAdjust="spacingAndGlyphs">SMA (50, close)</text>
<text x="107" y="80" fill="#f23645" textLength="59" lengthAdjust="spacingAndGlyphs">115,640.73</text>
<text x="18" y="579.5" fill="#131722" textLength="75" lengthAdjust="spacingAndGlyphs">RSI (14, close)</text>
<text x="102" y="579.5" fill="#7e57c2" textLength="29" lengthAdjust="spacingAndGlyphs">47.84</text>
<text x="138" y="579.5" fill="#f2c12e" textLength="29" lengthAdjust="spacingAndGlyphs">42.86</text>
</g>

<!-- price axis -->
<g font-size="12" fill="#131722">
<text x="1293" y="99">120,000.00</text>
<text x="1293" y="253">104,000.00</text>
<text x="1293" y="329">96,000.00</text>
<text x="1293" y="367.5">92,000.00</text>
<text x="1293" y="406">88,000.00</text>
<text x="1293" y="444.5">84,000.00</text>
<text x="1293" y="483">80,000.00</text>
<text x="1293" y="521.5">76,000.00</text>
<text x="1293" y="559">72,000.00</text>
<text x="1293" y="568">80.00</text>
<text x="1293" y="626.5">60.00</text>
<text x="1293" y="686">40.00</text>
</g>

<rect x="1287.5" y="32.5" width="69" height="23" rx="4" fill="#fff" stroke="#e0e3eb"/>
<text x="1296" y="48.5" font-size="12" fill="#131722">USDT</text>
<rect x="1284" y="60" width="73" height="3" fill="#0000ff"/>
<g font-size="12">
<rect x="1233" y="129" width="50" height="16.5" fill="#f23645"/>
<text x="1258" y="141.5" fill="#fff" text-anchor="middle">SMA:MA</text>
<rect x="1284" y="129" width="73" height="16.5" fill="#f23645"/>
<text x="1292" y="141.5" fill="#fff">115,640.73</text>
<rect x="1252" y="146" width="31" height="16.5" fill="#2962ff"/>
<text x="1267.5" y="158.5" fill="#fff" text-anchor="middle">EMA</text>
<rect x="1284" y="146" width="73" height="16.5" fill="#2962ff"/>
<text x="1292" y="158.5" fill="#fff">112,438.76</text>
<rect x="1226" y="163" width="57" height="17" fill="#22a191"/>
<text x="1254.5" y="175.5" fill="#fff" text-anchor="middle">BTCUSDT</text>
<rect x="1284" y="163" width="73" height="44.5" fill="#22a191"/>
<text x="1292" y="176" fill="#fff">112,156.74</text>
<text x="1292" y="189" fill="#fff">+20.59%</text>
<text x="1292" y="202" fill="rgba(255,255,255,0.75)">07:45:49</text>
<rect x="1284" y="208" width="73" height="16.5" fill="#0000ff"/>
<text x="1292" y="220.5" fill="#fff">112,000.00</text>
<rect x="1284" y="224.5" width="73" height="16.5" fill="#0000ff"/>
<text x="1292" y="237" fill="#fff">110,530.00</text>
<rect x="1284" y="279.5" width="73" height="16.5" fill="#0000ff"/>
<text x="1292" y="292" fill="#fff">100,000.00</text>
<rect x="1284" y="530" width="73" height="16.5" fill="#0000ff"/>
<text x="1292" y="542.5" fill="#fff">73,777.00</text>
<rect x="1258" y="650" width="25" height="17" fill="#7e57c2"/>
<text x="1270.5" y="662.5" fill="#fff" text-anchor="middle">RSI</text>
<rect x="1284" y="650" width="43" height="17" fill="#7e57c2"/>
<text x="1290" y="662.5" fill="#fff">47.84</text>
<rect x="1204" y="667" width="79" height="16.5" fill="#fdd835"/>
<text x="1243.5" y="679.5" fill="#131722" text-anchor="middle">RSI-based MA</text>
<rect x="1284" y="667" width="43" height="16.5" fill="#fdd835"/>
<text x="1290" y="679.5" fill="#131722">42.86</text>
</g>

<!-- time axis -->
<g font-size="12" fill="#131722" text-anchor="middle">
<text x="30" y="756">Dec</text>
<text x="160" y="756" font-weight="bold">2025</text>
<text x="289" y="756">Feb</text>
<text x="406" y="756">Mar</text>
<text x="536" y="756">Apr</text>
<text x="661" y="756">May</text>
<text x="791" y="756">Jun</text>
<text x="916" y="756">Jul</text>
<text x="1045" y="756">Aug</text>
<text x="1174" y="756">Sep</text>
</g>

<!-- logo -->
<g fill="#131722">
<path d="M12,788.5 H27 V804 H20 V795 H12 Z"/>
<circle cx="31.5" cy="792" r="3.6"/>
<path d="M37,788.5 H44 L36.5,804 H29.5 Z"/>
<text x="48" y="803" font-size="18" font-weight="bold" textLength="121" lengthAdjust="spacingAndGlyphs">TradingView</text>
</g>
</svg>
</div>
</body></html>
